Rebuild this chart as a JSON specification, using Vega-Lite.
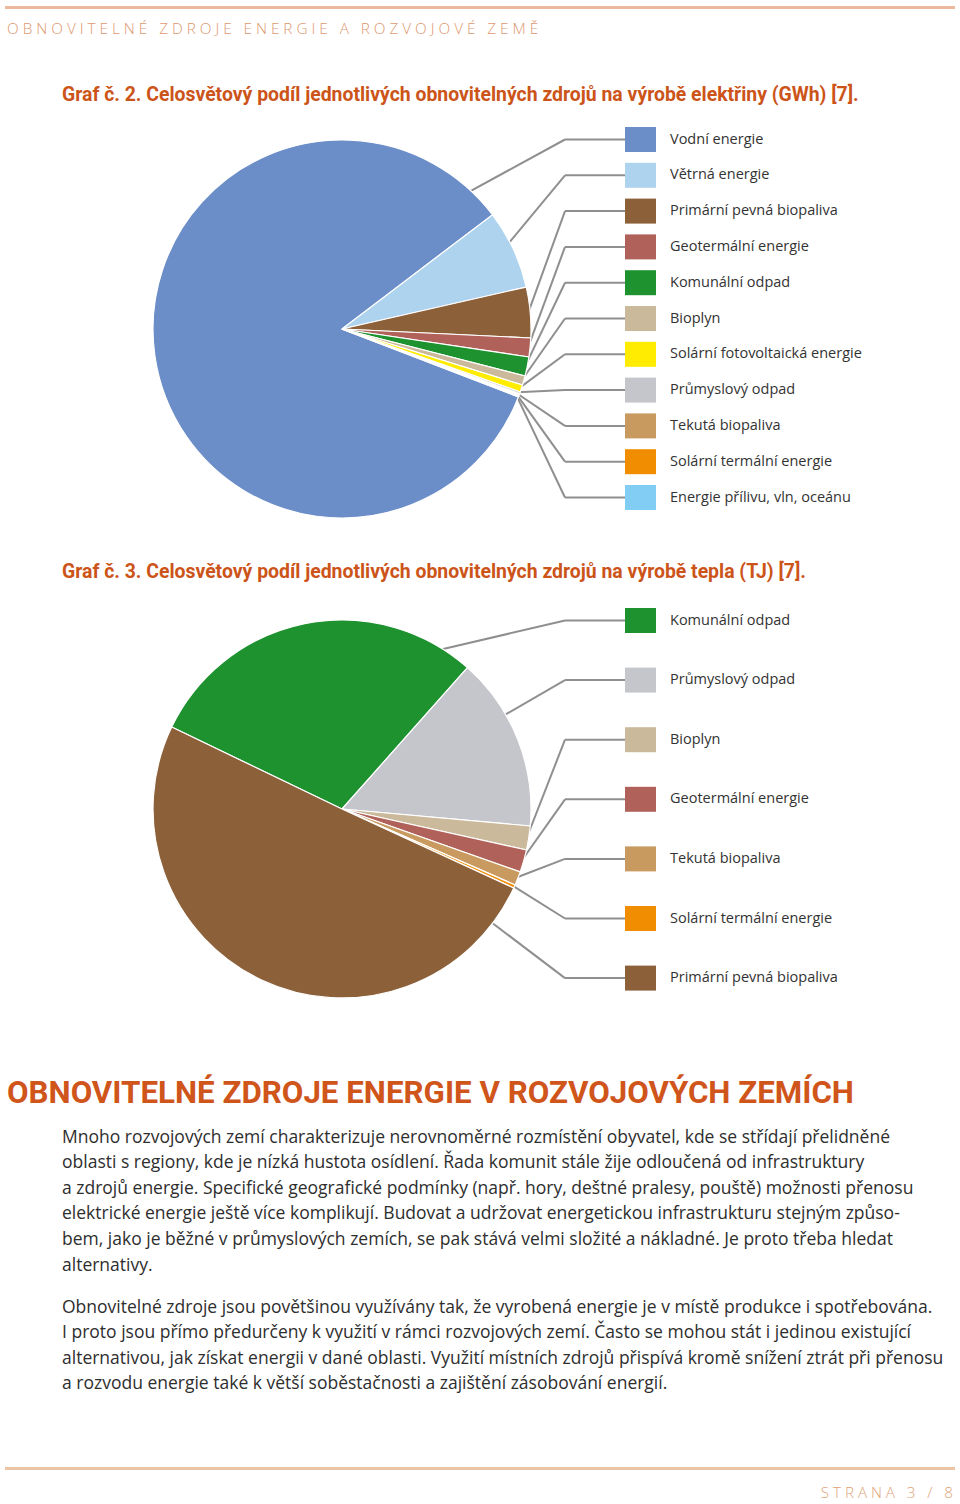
{
  "$schema": "https://vega.github.io/schema/vega-lite/v6.json",
  "background": "white",
  "padding": {"left": 5, "top": 4, "right": 5, "bottom": 0},
  "spacing": 0,
  "bounds": "flush",
  "config": {"view": {"stroke": null}},
  "resolve": {"scale": {"color": "independent"}},
  "vconcat": [
    {
      "width": 950,
      "height": 3,
      "view": {"fill": "#ebb99d", "stroke": null},
      "data": {"values": [{}]},
      "mark": {"type": "point", "opacity": 0},
      "title": {
        "text": "O\u00a0B\u00a0N\u00a0O\u00a0V\u00a0I\u00a0T\u00a0E\u00a0L\u00a0N\u00a0É\u00a0\u00a0\u00a0Z\u00a0D\u00a0R\u00a0O\u00a0J\u00a0E\u00a0\u00a0\u00a0E\u00a0N\u00a0E\u00a0R\u00a0G\u00a0I\u00a0E\u00a0\u00a0\u00a0A\u00a0\u00a0\u00a0R\u00a0O\u00a0Z\u00a0V\u00a0O\u00a0J\u00a0O\u00a0V\u00a0É\u00a0\u00a0\u00a0Z\u00a0E\u00a0M\u00a0Ě",
        "orient": "bottom", "anchor": "start", "frame": "group",
        "offset": 12, "dx": 2, "baseline": "top",
        "font": "Open Sans", "fontSize": 15.3, "fontWeight": 300, "color": "#dc9870"
      }
    },
    {
      "width": 950,
      "height": 553,
      "title": {
        "text": "Graf č. 2. Celosvětový podíl jednotlivých obnovitelných zdrojů na výrobě elektřiny (GWh) [7].",
        "orient": "top", "anchor": "start", "frame": "group",
        "offset": -96.4, "dx": 57, "baseline": "top",
        "font": "Roboto", "fontSize": 19.4, "fontWeight": 700, "color": "#cc5419"
      },
      "data": {"values": [
        {"zdroj": "Vodní energie", "gwh": 3530000, "poradi": 0},
        {"zdroj": "Větrná energie", "gwh": 285000, "poradi": 1},
        {"zdroj": "Primární pevná biopaliva", "gwh": 182000, "poradi": 2},
        {"zdroj": "Geotermální energie", "gwh": 67700, "poradi": 3},
        {"zdroj": "Komunální odpad", "gwh": 68800, "poradi": 4},
        {"zdroj": "Bioplyn", "gwh": 33200, "poradi": 5},
        {"zdroj": "Solární fotovoltaická energie", "gwh": 26100, "poradi": 6},
        {"zdroj": "Průmyslový odpad", "gwh": 7000, "poradi": 7},
        {"zdroj": "Tekutá biopaliva", "gwh": 4700, "poradi": 8},
        {"zdroj": "Solární termální energie", "gwh": 4100, "poradi": 9},
        {"zdroj": "Energie přílivu, vln, oceánu", "gwh": 2900, "poradi": 10}
      ]},
      "transform": [
        {"joinaggregate": [{"op": "sum", "field": "gwh", "as": "celkem"}]},
        {"window": [{"op": "sum", "field": "gwh", "as": "kum"}], "sort": [{"field": "poradi"}], "frame": [null, 0]},
        {"calculate": "1.9385 + 2*PI*(datum.kum - datum.gwh)/datum.celkem", "as": "a0"},
        {"calculate": "1.9385 + 2*PI*datum.kum/datum.celkem", "as": "a1"},
        {"calculate": "137.5 + 35.8*datum.poradi", "as": "ly"},
        {"calculate": "atan2(565 - 342, 327 - datum.ly)", "as": "b0"},
        {"calculate": "datum.b0 < 0 ? datum.b0 + 2*PI : datum.b0", "as": "b1"},
        {"calculate": "datum.b1 < 1.9385 ? datum.b1 + 2*PI : datum.b1", "as": "ba"},
        {"calculate": "min(PI/18, (datum.a1 - datum.a0)/2)", "as": "ins"},
        {"calculate": "clamp(datum.ba, datum.a0 + datum.ins, datum.a1 - datum.ins)", "as": "ang"},
        {"calculate": "342 + 187*sin(datum.ang)", "as": "sx"},
        {"calculate": "327 - 187*cos(datum.ang)", "as": "sy"},
        {"calculate": "565", "as": "bx"},
        {"calculate": "625", "as": "lx"},
        {"calculate": "656", "as": "lx2"},
        {"calculate": "670", "as": "tx"},
        {"calculate": "datum.ly - 12.5", "as": "ly1"},
        {"calculate": "datum.ly + 12.5", "as": "ly2"}
      ],
      "layer": [
        {
          "mark": {"type": "rule", "color": "#8f8f8f", "strokeWidth": 2},
          "encoding": {
            "x": {"field": "sx", "type": "quantitative", "scale": {"domain": [5, 955], "nice": false, "zero": false}, "axis": null},
            "y": {"field": "sy", "type": "quantitative", "scale": {"domain": [560, 7], "nice": false, "zero": false}, "axis": null},
            "x2": {"field": "bx"},
            "y2": {"field": "ly"}
          }
        },
        {
          "mark": {"type": "rule", "color": "#8f8f8f", "strokeWidth": 2},
          "encoding": {
            "x": {"field": "bx", "type": "quantitative", "scale": {"domain": [5, 955], "nice": false, "zero": false}, "axis": null},
            "y": {"field": "ly", "type": "quantitative", "scale": {"domain": [560, 7], "nice": false, "zero": false}, "axis": null},
            "x2": {"field": "lx"}
          }
        },
        {
          "mark": {"type": "arc", "outerRadius": 189, "stroke": "white", "strokeWidth": 1.2},
          "encoding": {
            "theta": {"field": "gwh", "type": "quantitative", "stack": true, "scale": {"range": [1.9385, 8.2217]}},
            "order": {"field": "poradi", "type": "quantitative"},
            "color": {
              "field": "zdroj", "type": "nominal", "legend": null,
              "scale": {
                "domain": ["Vodní energie", "Větrná energie", "Primární pevná biopaliva", "Geotermální energie", "Komunální odpad", "Bioplyn", "Solární fotovoltaická energie", "Průmyslový odpad", "Tekutá biopaliva", "Solární termální energie", "Energie přílivu, vln, oceánu"],
                "range": ["#6b8dc8", "#aed3ef", "#8c613a", "#b0625a", "#1f9230", "#cbb99b", "#ffec00", "#c5c6cb", "#c99a5f", "#f18d00", "#82cdf3"]
              }
            },
            "x": {"datum": 342, "type": "quantitative", "scale": {"domain": [5, 955], "nice": false, "zero": false}, "axis": null},
            "y": {"datum": 327, "type": "quantitative", "scale": {"domain": [560, 7], "nice": false, "zero": false}, "axis": null}
          }
        },
        {
          "mark": {"type": "rect"},
          "encoding": {
            "x": {"field": "lx", "type": "quantitative", "scale": {"domain": [5, 955], "nice": false, "zero": false}, "axis": null},
            "x2": {"field": "lx2"},
            "y": {"field": "ly1", "type": "quantitative", "scale": {"domain": [560, 7], "nice": false, "zero": false}, "axis": null},
            "y2": {"field": "ly2"},
            "color": {
              "field": "zdroj", "type": "nominal", "legend": null,
              "scale": {
                "domain": ["Vodní energie", "Větrná energie", "Primární pevná biopaliva", "Geotermální energie", "Komunální odpad", "Bioplyn", "Solární fotovoltaická energie", "Průmyslový odpad", "Tekutá biopaliva", "Solární termální energie", "Energie přílivu, vln, oceánu"],
                "range": ["#6b8dc8", "#aed3ef", "#8c613a", "#b0625a", "#1f9230", "#cbb99b", "#ffec00", "#c5c6cb", "#c99a5f", "#f18d00", "#82cdf3"]
              }
            }
          }
        },
        {
          "mark": {"type": "text", "align": "left", "baseline": "middle", "font": "Open Sans", "fontSize": 14.5, "color": "#333333"},
          "encoding": {
            "x": {"field": "tx", "type": "quantitative", "scale": {"domain": [5, 955], "nice": false, "zero": false}, "axis": null},
            "y": {"field": "ly", "type": "quantitative", "scale": {"domain": [560, 7], "nice": false, "zero": false}, "axis": null},
            "text": {"field": "zdroj"}
          }
        }
      ]
    },
    {
      "width": 950,
      "height": 485,
      "title": {
        "text": "Graf č. 3. Celosvětový podíl jednotlivých obnovitelných zdrojů na výrobě tepla (TJ) [7].",
        "orient": "top", "anchor": "start", "frame": "group",
        "offset": -20.4, "dx": 57, "baseline": "top",
        "font": "Roboto", "fontSize": 19.4, "fontWeight": 700, "color": "#cc5419"
      },
      "data": {"values": [
        {"zdroj": "Komunální odpad", "tj": 296500, "poradi": 0},
        {"zdroj": "Průmyslový odpad", "tj": 150000, "poradi": 1},
        {"zdroj": "Bioplyn", "tj": 20600, "poradi": 2},
        {"zdroj": "Geotermální energie", "tj": 19400, "poradi": 3},
        {"zdroj": "Tekutá biopaliva", "tj": 11900, "poradi": 4},
        {"zdroj": "Solární termální energie", "tj": 2800, "poradi": 5},
        {"zdroj": "Primární pevná biopaliva", "tj": 506800, "poradi": 6}
      ]},
      "transform": [
        {"joinaggregate": [{"op": "sum", "field": "tj", "as": "celkem"}]},
        {"window": [{"op": "sum", "field": "tj", "as": "kum"}], "sort": [{"field": "poradi"}], "frame": [null, 0]},
        {"calculate": "5.1609 + 2*PI*(datum.kum - datum.tj)/datum.celkem", "as": "a0"},
        {"calculate": "5.1609 + 2*PI*datum.kum/datum.celkem", "as": "a1"},
        {"calculate": "618.5 + 59.6*datum.poradi", "as": "ly"},
        {"calculate": "atan2(565 - 342, 807 - datum.ly)", "as": "b0"},
        {"calculate": "datum.b0 < 0 ? datum.b0 + 2*PI : datum.b0", "as": "b1"},
        {"calculate": "datum.b1 < 5.1609 ? datum.b1 + 2*PI : datum.b1", "as": "ba"},
        {"calculate": "min(PI/18, (datum.a1 - datum.a0)/2)", "as": "ins"},
        {"calculate": "clamp(datum.ba, datum.a0 + datum.ins, datum.a1 - datum.ins)", "as": "ang"},
        {"calculate": "342 + 187*sin(datum.ang)", "as": "sx"},
        {"calculate": "807 - 187*cos(datum.ang)", "as": "sy"},
        {"calculate": "565", "as": "bx"},
        {"calculate": "625", "as": "lx"},
        {"calculate": "656", "as": "lx2"},
        {"calculate": "670", "as": "tx"},
        {"calculate": "datum.ly - 12.5", "as": "ly1"},
        {"calculate": "datum.ly + 12.5", "as": "ly2"}
      ],
      "layer": [
        {
          "mark": {"type": "rule", "color": "#8f8f8f", "strokeWidth": 2},
          "encoding": {
            "x": {"field": "sx", "type": "quantitative", "scale": {"domain": [5, 955], "nice": false, "zero": false}, "axis": null},
            "y": {"field": "sy", "type": "quantitative", "scale": {"domain": [1045, 560], "nice": false, "zero": false}, "axis": null},
            "x2": {"field": "bx"},
            "y2": {"field": "ly"}
          }
        },
        {
          "mark": {"type": "rule", "color": "#8f8f8f", "strokeWidth": 2},
          "encoding": {
            "x": {"field": "bx", "type": "quantitative", "scale": {"domain": [5, 955], "nice": false, "zero": false}, "axis": null},
            "y": {"field": "ly", "type": "quantitative", "scale": {"domain": [1045, 560], "nice": false, "zero": false}, "axis": null},
            "x2": {"field": "lx"}
          }
        },
        {
          "mark": {"type": "arc", "outerRadius": 189, "stroke": "white", "strokeWidth": 1.2},
          "encoding": {
            "theta": {"field": "tj", "type": "quantitative", "stack": true, "scale": {"range": [5.1609, 11.4441]}},
            "order": {"field": "poradi", "type": "quantitative"},
            "color": {
              "field": "zdroj", "type": "nominal", "legend": null,
              "scale": {
                "domain": ["Komunální odpad", "Průmyslový odpad", "Bioplyn", "Geotermální energie", "Tekutá biopaliva", "Solární termální energie", "Primární pevná biopaliva"],
                "range": ["#1f9230", "#c5c6cb", "#cbb99b", "#b0625a", "#c99a5f", "#f18d00", "#8c613a"]
              }
            },
            "x": {"datum": 342, "type": "quantitative", "scale": {"domain": [5, 955], "nice": false, "zero": false}, "axis": null},
            "y": {"datum": 807, "type": "quantitative", "scale": {"domain": [1045, 560], "nice": false, "zero": false}, "axis": null}
          }
        },
        {
          "mark": {"type": "rect"},
          "encoding": {
            "x": {"field": "lx", "type": "quantitative", "scale": {"domain": [5, 955], "nice": false, "zero": false}, "axis": null},
            "x2": {"field": "lx2"},
            "y": {"field": "ly1", "type": "quantitative", "scale": {"domain": [1045, 560], "nice": false, "zero": false}, "axis": null},
            "y2": {"field": "ly2"},
            "color": {
              "field": "zdroj", "type": "nominal", "legend": null,
              "scale": {
                "domain": ["Komunální odpad", "Průmyslový odpad", "Bioplyn", "Geotermální energie", "Tekutá biopaliva", "Solární termální energie", "Primární pevná biopaliva"],
                "range": ["#1f9230", "#c5c6cb", "#cbb99b", "#b0625a", "#c99a5f", "#f18d00", "#8c613a"]
              }
            }
          }
        },
        {
          "mark": {"type": "text", "align": "left", "baseline": "middle", "font": "Open Sans", "fontSize": 14.5, "color": "#333333"},
          "encoding": {
            "x": {"field": "tx", "type": "quantitative", "scale": {"domain": [5, 955], "nice": false, "zero": false}, "axis": null},
            "y": {"field": "ly", "type": "quantitative", "scale": {"domain": [1045, 560], "nice": false, "zero": false}, "axis": null},
            "text": {"field": "zdroj"}
          }
        }
      ]
    },
    {
      "width": 950,
      "height": 70,
      "data": {"values": [{}]},
      "mark": {"type": "point", "opacity": 0},
      "title": {
        "text": "OBNOVITELNÉ ZDROJE ENERGIE V ROZVOJOVÝCH ZEMÍCH",
        "orient": "top", "anchor": "start", "frame": "group",
        "offset": -62.3, "dx": 2, "baseline": "top",
        "font": "Roboto", "fontSize": 31.3, "fontWeight": 700, "color": "#d0551b"
      }
    },
    {
      "width": 950,
      "height": 350,
      "data": {"values": [{}]},
      "mark": {"type": "point", "opacity": 0},
      "title": {
        "text": [
          "Mnoho rozvojových zemí charakterizuje nerovnoměrné rozmístění obyvatel, kde se střídají přelidněné",
          "oblasti s regiony, kde je nízká hustota osídlení. Řada komunit stále žije odloučená od infrastruktury",
          "a zdrojů energie. Specifické geografické podmínky (např. hory, deštné pralesy, pouště) možnosti přenosu",
          "elektrické energie ještě více komplikují. Budovat a udržovat energetickou infrastrukturu stejným způso-",
          "bem, jako je běžné v průmyslových zemích, se pak stává velmi složité a nákladné. Je proto třeba hledat",
          "alternativy."
        ],
        "subtitle": [
          "Obnovitelné zdroje jsou povětšinou využívány tak, že vyrobená energie je v místě produkce i spotřebována.",
          "I proto jsou přímo předurčeny k využití v rámci rozvojových zemí. Často se mohou stát i jedinou existující",
          "alternativou, jak získat energii v dané oblasti. Využití místních zdrojů přispívá kromě snížení ztrát při přenosu",
          "a rozvodu energie také k větší soběstačnosti a zajištění zásobování energií."
        ],
        "orient": "top", "anchor": "start", "frame": "group",
        "offset": -275.8, "dx": 57, "baseline": "top",
        "font": "Open Sans", "fontSize": 17.5, "fontWeight": 400, "color": "#2e2e2e", "lineHeight": 25.6,
        "subtitleFont": "Open Sans", "subtitleFontSize": 17.5, "subtitleFontWeight": 400, "subtitleColor": "#2e2e2e",
        "subtitleLineHeight": 25.6, "subtitlePadding": 24.5
      }
    },
    {
      "width": 950,
      "height": 3,
      "view": {"fill": "#ebc4a6", "stroke": null},
      "data": {"values": [{}]},
      "mark": {"type": "point", "opacity": 0},
      "title": {
        "text": "S\u00a0T\u00a0R\u00a0A\u00a0N\u00a0A\u00a0\u00a0\u00a03\u00a0\u00a0\u00a0/\u00a0\u00a0\u00a08",
        "orient": "bottom", "anchor": "end", "frame": "group",
        "offset": 15, "dx": -2, "baseline": "top",
        "font": "Open Sans", "fontSize": 15.2, "fontWeight": 300, "color": "#e0a277"
      }
    }
  ]
}
